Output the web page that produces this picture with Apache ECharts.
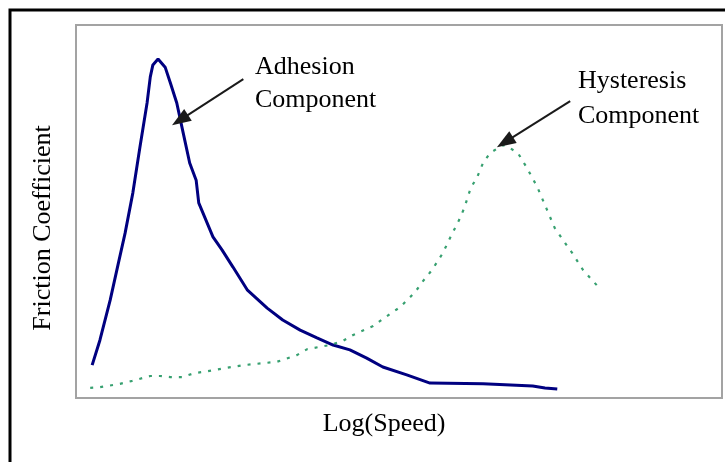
<!DOCTYPE html>
<html>
<head>
<meta charset="utf-8">
<style>
  html, body { margin: 0; padding: 0; background: #fff; }
  #chart { width: 725px; height: 462px; }
</style>
<script src="https://cdn.jsdelivr.net/npm/echarts@6/dist/echarts.min.js"></script>
</head>
<body>
<div id="chart"></div>
<script>
// Log(Speed) positions (arbitrary units, 0–100) and friction coefficient (arbitrary units, 0–100)
const adhesionSpeed = [2.5, 3.7, 5.3, 6.5, 7.6, 8.8, 9.9, 11.0, 11.5, 11.9, 12.7, 13.8, 14.6, 15.6, 16.6, 17.6, 18.6, 19.0, 21.2, 22.6, 24.3, 26.5, 29.6, 32.0, 34.7, 37.3, 39.8, 42.4, 45.0, 47.5, 51.2, 54.8, 63.0, 70.7, 72.6, 74.5];
const adhesionFriction = [8.8, 15.5, 26.3, 35.7, 44.2, 55.0, 67.3, 79.1, 86.1, 89.3, 90.9, 88.7, 84.5, 79.1, 71.0, 63.0, 58.4, 52.3, 43.2, 39.7, 35.1, 29.0, 24.1, 20.9, 18.2, 16.1, 14.2, 12.9, 10.7, 8.3, 6.2, 4.0, 3.8, 3.2, 2.7, 2.4];

const hysteresisSpeed = [2.2, 3.7, 6.8, 8.7, 11.5, 13.0, 14.6, 16.4, 18.4, 19.7, 24.1, 25.9, 31.1, 34.2, 35.8, 39.3, 41.3, 42.9, 46.0, 47.5, 50.2, 52.5, 53.6, 55.1, 56.8, 57.9, 59.3, 60.1, 61.1, 62.1, 63.0, 64.1, 66.1, 66.9, 68.4, 69.8, 71.4, 72.8, 74.1, 75.7, 76.8, 78.5, 81.0];
const hysteresisFriction = [2.7, 2.9, 3.8, 4.6, 5.9, 5.9, 5.6, 5.6, 6.7, 7.0, 8.3, 8.8, 9.7, 11.5, 13.1, 14.2, 15.3, 16.9, 19.3, 21.2, 24.4, 28.4, 31.1, 34.3, 38.9, 42.9, 47.7, 50.9, 56.3, 59.2, 63.0, 65.7, 67.8, 67.3, 65.7, 61.7, 56.6, 50.9, 45.6, 41.6, 38.9, 34.3, 29.5];

// Annotation arrows: [tail, head] in data units
const adhesionArrow = [[25.9, 85.5], [16.1, 74.5]];
const hysteresisArrow = [[76.5, 79.6], [66.4, 68.6]];

const xLabel = 'Log(Speed)';
const yLabel = 'Friction Coefficient';
const adhesionText = 'Adhesion\nComponent';
const hysteresisText = 'Hysteresis\nComponent';

const zip = (xs, ys) => xs.map((x, i) => [x, ys[i]]);
const FONT = '"Liberation Serif", "DejaVu Serif", serif';

function arrowLine(pts) {
  return {
    symbol: ['none', 'triangle'],
    symbolSize: [14, 19],
    silent: true,
    label: { show: false },
    lineStyle: { color: '#1a1a1a', width: 2, type: 'solid' },
    emphasis: { disabled: true },
    data: [[{ coord: pts[0] }, { coord: pts[1] }]]
  };
}

const chart = echarts.init(document.getElementById('chart'), null, { renderer: 'canvas' });
chart.setOption({
  animation: false,
  backgroundColor: '#ffffff',
  grid: {
    left: 76, top: 25, width: 646, height: 373,
    show: true, borderColor: '#a3a3a3', borderWidth: 2, backgroundColor: 'transparent'
  },
  xAxis: { type: 'value', min: 0, max: 100, show: false },
  yAxis: { type: 'value', min: 0, max: 100, show: false },
  series: [
    {
      type: 'line', name: 'Adhesion', data: zip(adhesionSpeed, adhesionFriction),
      symbol: 'none', smooth: false,
      lineStyle: { color: '#000080', width: 3 },
      markLine: arrowLine(adhesionArrow)
    },
    {
      type: 'line', name: 'Hysteresis', data: zip(hysteresisSpeed, hysteresisFriction),
      symbol: 'none', smooth: false,
      lineStyle: { color: '#37a070', width: 2.2, type: [3, 7] },
      markLine: arrowLine(hysteresisArrow)
    }
  ],
  graphic: [
    {
      type: 'rect', silent: true,
      shape: { x: 10, y: 10, width: 740, height: 470 },
      style: { fill: 'none', stroke: '#000', lineWidth: 3 }
    },
    {
      type: 'text', left: 255, top: 51,
      style: { text: adhesionText, font: '26px ' + FONT, fill: '#000', lineHeight: 33 }
    },
    {
      type: 'text', left: 578, top: 64,
      style: { text: hysteresisText, font: '26px ' + FONT, fill: '#000', lineHeight: 35 }
    },
    {
      type: 'text', x: 384, y: 424,
      style: { text: xLabel, font: '26px ' + FONT, fill: '#000', align: 'center', verticalAlign: 'middle' }
    },
    {
      type: 'text', x: 43, y: 228, rotation: Math.PI / 2,
      style: { text: yLabel, font: '26px ' + FONT, fill: '#000', align: 'center', verticalAlign: 'middle' }
    }
  ]
});
</script>
</body>
</html>
